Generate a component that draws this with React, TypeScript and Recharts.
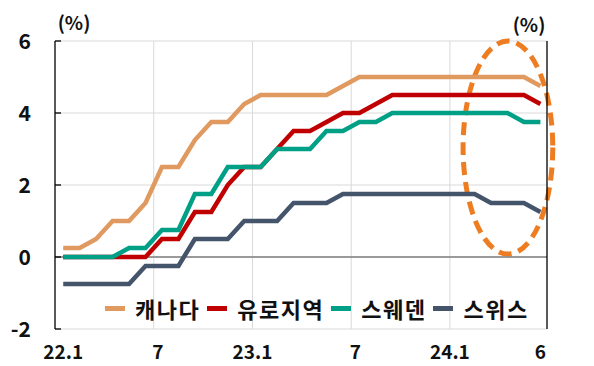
import {
  LineChart,
  Line,
  XAxis,
  YAxis,
  CartesianGrid,
  ReferenceLine,
  ReferenceArea,
  Legend,
} from "recharts";

const months = [
  "22.1", "22.2", "22.3", "22.4", "22.5", "22.6", "22.7", "22.8", "22.9", "22.10", "22.11", "22.12",
  "23.1", "23.2", "23.3", "23.4", "23.5", "23.6", "23.7", "23.8", "23.9", "23.10", "23.11", "23.12",
  "24.1", "24.2", "24.3", "24.4", "24.5", "24.6",
];

const canada = [
  0.25, 0.25, 0.5, 1.0, 1.0, 1.5, 2.5, 2.5, 3.25, 3.75, 3.75, 4.25,
  4.5, 4.5, 4.5, 4.5, 4.5, 4.75, 5.0, 5.0, 5.0, 5.0, 5.0, 5.0,
  5.0, 5.0, 5.0, 5.0, 5.0, 4.75,
];
const euro = [
  0, 0, 0, 0, 0, 0, 0.5, 0.5, 1.25, 1.25, 2.0, 2.5,
  2.5, 3.0, 3.5, 3.5, 3.75, 4.0, 4.0, 4.25, 4.5, 4.5, 4.5, 4.5,
  4.5, 4.5, 4.5, 4.5, 4.5, 4.25,
];
const sweden = [
  0, 0, 0, 0, 0.25, 0.25, 0.75, 0.75, 1.75, 1.75, 2.5, 2.5,
  2.5, 3.0, 3.0, 3.0, 3.5, 3.5, 3.75, 3.75, 4.0, 4.0, 4.0, 4.0,
  4.0, 4.0, 4.0, 4.0, 3.75, 3.75,
];
const swiss = [
  -0.75, -0.75, -0.75, -0.75, -0.75, -0.25, -0.25, -0.25, 0.5, 0.5, 0.5, 1.0,
  1.0, 1.0, 1.5, 1.5, 1.5, 1.75, 1.75, 1.75, 1.75, 1.75, 1.75, 1.75,
  1.75, 1.75, 1.5, 1.5, 1.5, 1.25,
];

const tickLabels = ["22.1", "7", "23.1", "7", "24.1", "6"];
const tickPos = [0, 5.75, 11.5, 17.75, 23.5, 29];
const gridPos = [5.5, 11.5, 17.5, 23.5];
const yTicks = [-2, 0, 2, 4, 6];

const series = [
  { key: "canada", name: "캐나다", color: "#E09A5F" },
  { key: "euro", name: "유로지역", color: "#C00000" },
  { key: "sweden", name: "스웨덴", color: "#00A086" },
  { key: "swiss", name: "스위스", color: "#44546A" },
];

const data = months.map((m, i) => ({
  i,
  month: m,
  canada: canada[i],
  euro: euro[i],
  sweden: sweden[i],
  swiss: swiss[i],
}));

const FONT = "'Noto Sans CJK KR', 'Noto Sans', sans-serif";

const LeftTick = (props: any) => {
  const { x, y, payload } = props;
  return (
    <g>
      <line x1={x + 24} x2={x + 30} y1={y} y2={y} stroke="#000" strokeWidth={1.3} />
      <text x={x} y={y} dy="0.36em" textAnchor="end" fontFamily={FONT} fontWeight={700} fontSize={21} fill="#111">
        {payload.value}
      </text>
    </g>
  );
};

const RightTick = (props: any) => {
  const { x, y, payload } = props;
  return (
    <g>
      <line x1={x - 24} x2={x - 30} y1={y} y2={y} stroke="#000" strokeWidth={1.3} />
      <text x={x} y={y} dy="0.36em" textAnchor="start" fontFamily={FONT} fontWeight={700} fontSize={21} fill="#111">
        {payload.value}
      </text>
    </g>
  );
};

const BottomTick = (props: any) => {
  const { x, y, payload, index } = props;
  return (
    <text x={x} y={y} dy="0.72em" textAnchor="middle" fontFamily={FONT} fontWeight={700} fontSize={19} fill="#111">
      {tickLabels[index] ?? payload.value}
    </text>
  );
};

const renderLegend = () => (
  <div style={{ display: "flex", alignItems: "center", fontFamily: FONT, fontWeight: 700, fontSize: 22, letterSpacing: 1.5, color: "#111", whiteSpace: "nowrap" }}>
    {series.map((s) => (
      <div key={s.key} style={{ display: "flex", alignItems: "center", marginRight: 7 }}>
        <span style={{ display: "inline-block", width: 20, height: 5, background: s.color, marginRight: 10 }} />
        <span>{s.name}</span>
      </div>
    ))}
  </div>
);

const Ellipse = (p: any) => (
  <ellipse
    cx={p.x + p.width / 2}
    cy={p.y + p.height / 2}
    rx={p.width / 2}
    ry={p.height / 2}
    fill="none"
    stroke="#EE7D22"
    strokeWidth={5}
    strokeDasharray="13 7"
  />
);

export default function App() {
  return (
    <div style={{ position: "absolute", left: 0, top: 0, width: 594, height: 366, background: "#fff" }}>
      <LineChart width={594} height={366} data={data} margin={{ top: 41, right: 0, bottom: 0, left: 0 }}>
        <CartesianGrid yAxisId="l" vertical={false} stroke="#D9D9D9" />
        <XAxis
          dataKey="i"
          type="number"
          domain={[-0.5, 29.4]}
          ticks={tickPos}
          interval={0}
          height={37}
          axisLine={false}
          tickLine={false}
          tickSize={0}
          tickMargin={16}
          tick={<BottomTick />}
        />
        <YAxis
          yAxisId="l"
          orientation="left"
          width={55}
          domain={[-2, 6]}
          ticks={yTicks}
          interval={0}
          axisLine={{ stroke: "#000", strokeWidth: 1.3 }}
          tickLine={false}
          tickSize={0}
          tickMargin={24}
          tick={<LeftTick />}
          label={{
            content: (lp: any) => (
              <text x={lp.viewBox.x + lp.viewBox.width + 19} y={lp.viewBox.y - 11} textAnchor="middle" fontFamily={FONT} fontWeight={700} fontSize={19} fill="#111">
                (%)
              </text>
            ),
          }}
        />
        <YAxis
          yAxisId="r"
          orientation="right"
          width={47}
          domain={[-2, 6]}
          ticks={yTicks}
          interval={0}
          axisLine={{ stroke: "#000", strokeWidth: 1.3 }}
          tickLine={false}
          tickSize={0}
          tickMargin={24}
          tick={<RightTick />}
          label={{
            content: (lp: any) => (
              <text x={lp.viewBox.x - 18} y={lp.viewBox.y - 9} textAnchor="middle" fontFamily={FONT} fontWeight={700} fontSize={19} fill="#111">
                (%)
              </text>
            ),
          }}
        />
        {gridPos.map((g) => (
          <ReferenceLine key={g} yAxisId="l" x={g} stroke="#D9D9D9" strokeWidth={1} />
        ))}
        <ReferenceLine yAxisId="l" y={0} stroke="#7F7F7F" strokeWidth={1.5} />
        {series.map((s) => (
          <Line
            key={s.key}
            yAxisId="l"
            type="linear"
            dataKey={s.key}
            name={s.name}
            stroke={s.color}
            strokeWidth={4.5}
            dot={false}
            activeDot={false}
            isAnimationActive={false}
          />
        ))}
        <ReferenceArea
          yAxisId="l"
          x1={24.3}
          x2={29.75}
          y1={0.08}
          y2={6.0}
          ifOverflow="visible"
          shape={<Ellipse />}
        />
        <Legend
          layout="horizontal"
          verticalAlign="middle"
          align="center"
          wrapperStyle={{ top: 292, left: 105, width: "auto" }}
          content={renderLegend}
        />
      </LineChart>
    </div>
  );
}
